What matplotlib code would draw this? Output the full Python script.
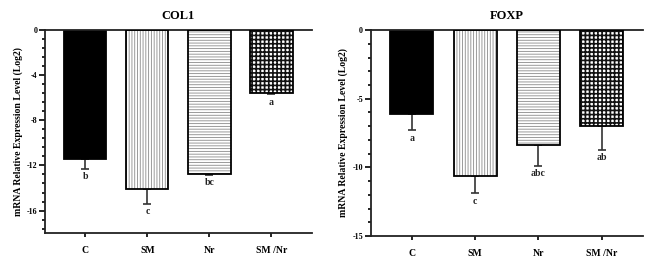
import matplotlib
matplotlib.use("Agg")
import matplotlib.pyplot as plt
from matplotlib.ticker import MultipleLocator
import numpy as np

plt.rcParams['font.family'] = ['Liberation Serif', 'DejaVu Serif']
plt.rcParams['axes.unicode_minus'] = False

categories = ["C", "SM", "Nr", "SM /Nr"]

col1_title = "COL1"
col1_values = [-11.4, -14.1, -12.75, -5.6]
col1_errors = [0.9, 1.3, 0.1, 0.1]
col1_letters = ["b", "c", "bc", "a"]
col1_yticks = [0, -4, -8, -12, -16]

foxp_title = "FOXP"
foxp_values = [-6.1, -10.65, -8.4, -7.0]
foxp_errors = [1.2, 1.25, 1.5, 1.7]
foxp_letters = ["a", "c", "abc", "ab"]
foxp_yticks = [0, -5, -10, -15]

ylabel = "mRNA Relative Expression Level (Log2)"

hatches = [None, "||||||", "------", "++++"]
hatch_colors = ["black", "#8a8a8a", "#8a8a8a", "#111111"]
hatch_lw = [0.5, 0.6, 0.6, 1.2]

fig = plt.figure(figsize=(6.62, 2.64), dpi=100)
ax1 = fig.add_axes([0.068, 0.117, 0.403, 0.769])
ax2 = fig.add_axes([0.560, 0.106, 0.411, 0.780])


def draw(ax, title, values, errors, letters, yticks, ymin, minor):
    x = np.arange(len(categories))
    for i in range(len(categories)):
        if hatches[i] is None:
            ax.bar(x[i], values[i], width=0.68, color="black", edgecolor="black",
                   linewidth=1.3, zorder=2)
        else:
            with plt.rc_context({'hatch.linewidth': hatch_lw[i]}):
                ax.bar(x[i], values[i], width=0.68, color="white",
                       edgecolor=hatch_colors[i], hatch=hatches[i],
                       linewidth=0, zorder=2)
            ax.bar(x[i], values[i], width=0.68, fill=False, edgecolor="black",
                   linewidth=1.3, zorder=3)
    ax.errorbar(x, values, yerr=[errors, [0] * len(errors)], fmt="none",
                ecolor="#333333", elinewidth=1.2, capsize=3.2, capthick=1.2, zorder=1)
    for i in range(len(categories)):
        ax.annotate(letters[i], (x[i], values[i] - errors[i]), xytext=(0, -2.5),
                    textcoords="offset points", ha="center", va="top",
                    fontsize=7, fontweight="bold", color="#222222")
    ax.set_xlim(-0.65, 3.65)
    ax.set_ylim(ymin, 0)
    ax.set_xticks(x)
    ax.set_xticklabels(categories, fontsize=7, fontweight="bold")
    ax.set_yticks(yticks)
    ax.set_yticklabels([str(t) for t in yticks], fontsize=5.8, fontweight="bold")
    ax.yaxis.set_minor_locator(MultipleLocator(minor))
    ax.tick_params(axis="y", which="major", length=4, width=1.2, pad=1.5)
    ax.tick_params(axis="y", which="minor", length=2.5, width=1.2)
    ax.tick_params(axis="x", which="major", length=3, width=1.2, pad=6)
    ax.spines["right"].set_visible(False)
    for s in ["left", "bottom", "top"]:
        ax.spines[s].set_linewidth(1.3)
        ax.spines[s].set_color("#222222")
    ax.set_title(title, fontsize=9, fontweight="bold", pad=8)
    ax.set_ylabel(ylabel, fontsize=7, fontweight="bold", labelpad=3)


draw(ax1, col1_title, col1_values, col1_errors, col1_letters, col1_yticks, -18, 0.8)
draw(ax2, foxp_title, foxp_values, foxp_errors, foxp_letters, foxp_yticks, -15, 1)

fig.savefig("out.png", dpi=100)
